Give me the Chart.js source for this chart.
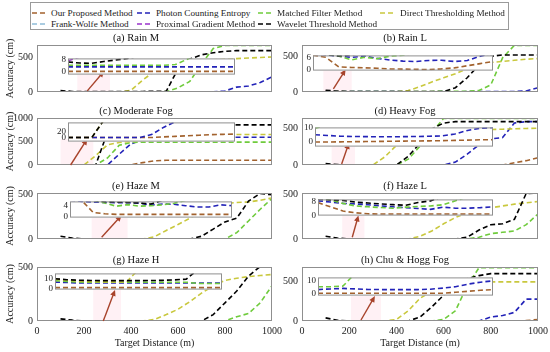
<!DOCTYPE html>
<html><head><meta charset="utf-8">
<script src="https://cdn.jsdelivr.net/npm/chart.js@4.4.1/dist/chart.umd.min.js"></script>
<style>
html,body{margin:0;padding:0;background:#fff;}
body{position:relative;width:550px;height:352px;overflow:hidden;font-family:"Liberation Serif","Times New Roman",serif;}
canvas{position:absolute;}
#legendBox{position:absolute;left:30px;top:2px;width:477px;height:26px;border:1px solid #9a9a9a;background:#fff;}
.lt{position:absolute;font-size:9.2px;line-height:12px;color:#222;white-space:nowrap;}
.ls{position:absolute;}
</style></head><body>
<div id="legendBox"></div>
<script>
// ---------------- DATA ----------------
const distance = [100,150,200,250,300,350,400,450,500,550,600,650,700,750,800,850,900,950,1000];
const insetDistance = [100,150,200,250,300,350,400,450,500,550,600,650,700,750,800];
const methodNames = ['Our Proposed Method','Photon Counting Entropy','Matched Filter Method','Direct Thresholding Method','Frank-Wolfe Method','Proximal Gradient Method','Wavelet Threshold Method'];
const panelTitles = ['(a) Rain M','(b) Rain L','(c) Moderate Fog','(d) Heavy Fog','(e) Haze M','(f) Haze L','(g) Haze H','(h) Chu & Hogg Fog'];
const xTickValues = [0,200,400,600,800,1000];

// main series, order: proposed, photon counting, matched filter, direct thresholding, frank-wolfe, proximal gradient, wavelet
const rainM = [
  [2,2,2,2,2,2,2,2,2,2,2,2,2,2,2,2,2,2,2],
  [3,3,3,3,3,3,3,3,3,3,3,3,3,3,15,70,85,135,215],
  [4,4,4,4,4,4,4,4,4,5,60,150,400,620,662,662,662,662,662],
  [0,0,0,0,0,0,25,170,295,370,410,430,448,458,468,476,484,492,500],
  null, null,
  [20,8,6,5,5,6,7,8,9,10,330,470,530,560,580,590,590,590,590]
];
const rainL = [
  [7,6,2,1,1,1,0.5,0.4,0.3,0.2,0.5,1,2,3,4,4,4,4,4],
  [7,7,6,6,6,5,5,4,4,4,5,4,5,6,8,8,8,15,60],
  [8,7.5,6.6,4.8,6,5.3,6.6,7,8,8,9,9,10,20,100,480,655,655,655],
  [0,0,0,0,0,0,0,20,75,140,200,255,330,390,415,430,445,460,470],
  null, null,
  [25,10,7,7,8,8,8,7,6,5,5,60,200,380,500,520,520,520,520]
];
const moderateFog = [
  [0,0,0,0,0,0,5,50,90,100,100,100,100,100,100,100,100,100,100],
  [0,0,0,0,0,230,450,540,565,575,580,582,584,586,588,590,590,590,590],
  [0,0,0,0,150,420,480,487,487,487,487,487,487,487,487,487,487,487,487],
  [0,0,0,200,430,480,500,520,540,560,580,600,620,635,645,650,650,650,650],
  null, null,
  [0,0,0,0,700,840,853,853,853,853,853,853,853,853,853,853,853,853,853]
];
const heavyFog = [
  [0,0,0,0,0,0,0,0,0,0,0,0,0,0,0,0,30,60,100],
  [0,0,0,0,0,0,0,0,0,0,0,40,150,280,360,380,580,600,600],
  [0,0,0,0,0,0,0,80,260,450,645,645,645,645,645,645,645,645,645],
  [0,0,0,0,0,110,270,380,430,450,460,470,478,485,490,495,500,505,510],
  null, null,
  [20,5,0,0,0,0,0,120,300,500,580,600,600,600,600,600,600,600,600]
];
const hazeM = [
  [1,1,1,1,1,1,1,1,1,1,1,1,1,1,1,1,1,1,1],
  [3,3,3,3,3,3,3,3,3,3,3,3,3,3,3,3,3,3,3],
  [0,0,0,0,0,0,0,0,0,0,0,0,0,0,0,70,200,330,450],
  [0,0,0,0,0,0,0,0,25,95,160,230,300,350,390,405,410,430,455],
  null, null,
  [30,10,0,0,0,0,0,0,0,0,0,0,30,110,190,230,420,505,490]
];
const hazeL = [
  [1,1,1,1,1,1,1,1,1,1,1,1,1,1,1,1,1,1,1],
  [2,2,2,2,2,2,2,2,2,2,2,2,2,2,2,2,2,2,2],
  [0,0,0,0,0,0,0,0,0,0,0,0,0,20,60,75,90,160,280],
  [0,0,0,0,0,0,0,0,30,90,170,240,295,320,350,370,390,405,420],
  null, null,
  [30,10,0,0,0,0,0,0,0,0,0,0,20,100,160,170,220,510,515]
];
const hazeH = [
  [1,1,1,1,1,1,1,1,1,1,1,1,1,1,1,1,1,1,1],
  [2,2,2,2,2,2,2,2,2,2,2,2,2,2,2,2,2,2,2],
  [0,0,0,0,0,0,0,0,0,0,0,0,0,0,0,40,70,170,330],
  [0,0,0,0,0,0,0,0,15,60,110,180,260,330,380,400,415,425,435],
  null, null,
  [20,8,0,0,0,0,0,0,0,0,0,0,0,60,170,280,420,510,505]
];
const chuHoggFog = [
  [0,0,0,0,0,0,0,0,0,0,0,0,0,0,0,0,0,5,20],
  [0,0,0,0,0,0,0,0,0,0,0,0,0,0,50,70,110,280,280],
  [0,0,0,0,0,0,0,0,0,0,20,130,450,680,680,680,680,680,680],
  [0,0,0,0,0,0,20,130,290,380,430,460,480,490,500,500,500,500,500],
  null, null,
  [40,10,0,0,0,0,0,0,50,180,330,450,540,580,605,605,605,605,605]
];

// zoomed inset series (same order), distances 100..800
const rainMInset = [
  [0,0,0,0,0,0,0,0,0,0,0,0,0,0,0],
  [3,3,3,3,3,3,3,3,3,3,3,3,3,3,3],
  [4,4,4,4,4,4,4,4,4,4.5,8,12,14,14,14],
  null, null,
  [7,9.5,12,12,12,12,12,12,12,12,12,12,12,12,12],
  [6.2,5.5,5.3,6.5,7.5,8.5,10,12,12,12,12,12,12,12,12]
];
const rainLInset = [
  [7,6,1.5,1.2,1.0,0.8,0.5,0.4,0.3,0.2,0.5,1.0,2.0,3.0,4.0],
  [7.5,7.2,6.5,6.0,6.6,5.5,4.7,4.2,4.0,4.5,4.6,4.0,4.5,6.5,8],
  [8,7.5,6.6,4.8,6.0,5.3,6.6,7.0,8,9,9,9,9,9,9],
  null, null, null,
  [8,7.3,6.6,7.2,8,9,9,9,9,9,9,9,9,9,9]
];
const moderateFogInset = [
  [0,0,0,0,0,0,0,0,2,4,6,8,10,11,12],
  [0,0,0,0,0,0,0,10,35,55,70,70,70,70,70],
  null,
  [0,0,0,60,60,60,60,60,60,60,60,60,60,60,60],
  null, null,
  [0,0,0,60,60,60,60,60,60,60,60,60,60,60,60]
];
const heavyFogInset = [
  [0,0,0.1,0.2,0.3,0.4,0.5,0.6,0.7,0.8,0.9,1.1,1.3,1.5,1.6],
  [5,4.5,4,3.8,3.7,3.6,3.6,3.7,3.8,4,4.2,5.5,8,9.5,10],
  [9.5,12,12,12,12,12,12,12,12,12,12,12,12,12,12],
  null, null, null, null
];
const hazeMInset = [
  [8,6,1.5,1.0,0.8,0.8,0.8,0.8,0.8,0.8,0.8,0.8,0.8,0.8,0.8],
  [6,5.6,5.3,5.2,5.1,5.1,5.0,4.2,4.6,4.5,4.0,3.5,3.5,4.3,4.0],
  [7,6.5,6,5,3.8,4.4,3.8,4.0,4.3,4.9,6,7,8,8,8],
  null, null, null,
  [8,7,6,5.5,5.3,5.2,5.0,4.6,6,8,9,9,9,9,9]
];
const hazeLInset = [
  [7.5,5,2.5,1.5,0.9,0.8,0.8,0.8,0.8,0.8,0.8,0.8,0.8,0.8,0.8],
  [8.5,7.8,7,6.7,6.2,5.5,5,4.5,4.0,3.5,4.8,4.2,4.2,4.5,5],
  [11,9,7,5.5,5.0,4.6,4.2,4.8,5.2,5.5,6.2,8.5,11,11,11],
  null, null, null,
  [9.5,9,8.7,7.8,7.2,6.7,6.3,5.9,7.5,8.5,11,11,11,11,11]
];
const hazeHInset = [
  [0.5,0.5,0.5,0.5,0.5,0.5,0.5,0.5,0.5,0.5,0.5,0.5,0.5,0.5,0.5],
  [6.4,6,5.5,5.5,5.5,5.5,5.5,5.5,5.5,5.5,5.5,5.5,5.5,5.5,5.5],
  [8,7,6.5,6.3,6.3,6.3,6.3,6.3,6.3,6.3,6.3,6.3,5,5,5],
  [9.5,8.5,7.5,7,6.7,6.6,6.5,20,20,20,20,20,20,20,20],
  null, null,
  [10,9,8.4,8.2,8,8,8,8,8.1,8.3,8.8,9.5,20,20,20]
];
const chuHoggFogInset = [
  [0.5,0.5,0.5,0.5,0.5,0.5,0.5,0.5,0.5,0.5,0.5,1.2,2,2.8,3.3],
  [3.3,3.8,4.2,3.8,3.4,3.3,3.3,3.3,3.3,3.6,4.4,5.5,7.5,9,10],
  [5.5,5.5,6,16,16,16,16,16,16,16,16,16,16,16,16],
  null, null, null, null
];

// ---------------- STYLE / LAYOUT ----------------
const methodColors = ['#A2622E','#2323B8','#6FCB3C','#C9C83E','#8FBCD8','#9A33CC','#000000'];
const arrowColor = '#A8432B';
const highlightColor = 'rgba(255,120,160,0.10)';
const frameColor = '#8f8f8f';
const SERIF = '"Liberation Serif","Times New Roman",serif';
const colLeft = [37, 302], colRight = [272, 538], colAxisW = [37, 30];
const rowTop = [45, 118, 193, 267], rowBottom = [100, 173, 247, 321];
const mainYMax = [670, 660, 1000, 650, 510, 515, 505, 690];
const mainYTicks = [[0,500],[0,500],[0,500,1000],[0,500],[0,500],[0,500],[0,500],[0,500]];
const insetBox = [[68,57,235,76],[313,54,493,72],[68,121,235,143],[315,126,493,148],[70,200,232,219],[318,198,493,217],[55,272,222,291],[318,276,493,297]];
const insetYRange = [[-2.1,8.55],[-0.3,6.9],[-14.2,52.4],[-3.2,10.1],[-0.41,5.58],[-0.15,9.35],[-1.55,15.7],[-1.33,12.67]];
const insetYTicks = [[0,4,8],[0,6],[0,20],[0,5,10],[0,4],[0,8],[0,10],[0,5,10]];
const arrowAnchors = [[214,16,285,296],[133,44,185,316],[143,0,214,555],[168,15,199,304],[275,19,360,262],[213,19,239,264],[282,0,332,290],[250,13,309,318]];

const mainSeries = [rainM, rainL, moderateFog, heavyFog, hazeM, hazeL, hazeH, chuHoggFog];
const insetSeries = [rainMInset, rainLInset, moderateFogInset, heavyFogInset, hazeMInset, hazeLInset, hazeHInset, chuHoggFogInset];

Chart.defaults.font.family = SERIF;
Chart.defaults.color = '#222';

const plainNumber = v => String(v);

const framePlugin = {
  id: 'frame',
  beforeDraw(chart, args, opts) {
    if (!opts.fill) return;
    const {ctx, chartArea: a} = chart;
    ctx.save(); ctx.fillStyle = opts.fill;
    ctx.fillRect(a.left, a.top, a.right - a.left, a.bottom - a.top);
    ctx.restore();
  },
  afterDatasetsDraw(chart, args, opts) {
    const {ctx, chartArea: a} = chart;
    ctx.save(); ctx.strokeStyle = opts.color || frameColor; ctx.lineWidth = 1;
    ctx.strokeRect(a.left + 0.5, a.top + 0.5, a.right - a.left - 1, a.bottom - a.top - 1);
    ctx.restore();
  }
};
const arrowPlugin = {
  id: 'arrow',
  beforeDatasetsDraw(chart, args, opts) {
    if (!opts.points) return;
    const [x0, y0, x1, y1] = opts.points;
    const xs = chart.scales.x, ys = chart.scales.y, ctx = chart.ctx;
    const left = xs.getPixelForValue(x0) - 10, right = xs.getPixelForValue(x1) + 6;
    const top = ys.getPixelForValue(y1), bottom = chart.chartArea.bottom;
    ctx.save(); ctx.fillStyle = opts.highlight;
    ctx.fillRect(left, top, right - left, bottom - top);
    ctx.restore();
  },
  afterDatasetsDraw(chart, args, opts) {
    if (!opts.points) return;
    const [x0, y0, x1, y1] = opts.points;
    const xs = chart.scales.x, ys = chart.scales.y, ctx = chart.ctx;
    const ax = xs.getPixelForValue(x0), ay = ys.getPixelForValue(y0);
    const bx = xs.getPixelForValue(x1), by = ys.getPixelForValue(y1);
    const ang = Math.atan2(by - ay, bx - ax), L = 6, W = 2.8;
    ctx.save(); ctx.strokeStyle = opts.color; ctx.fillStyle = opts.color; ctx.lineWidth = 1.4;
    ctx.beginPath(); ctx.moveTo(ax, ay); ctx.lineTo(bx - 3 * Math.cos(ang), by - 3 * Math.sin(ang)); ctx.stroke();
    ctx.beginPath(); ctx.moveTo(bx, by);
    ctx.lineTo(bx - L * Math.cos(ang) + W * Math.sin(ang), by - L * Math.sin(ang) - W * Math.cos(ang));
    ctx.lineTo(bx - L * Math.cos(ang) - W * Math.sin(ang), by - L * Math.sin(ang) + W * Math.cos(ang));
    ctx.closePath(); ctx.fill(); ctx.restore();
  }
};

function buildDatasets(series, xs) {
  const ds = [];
  for (let m = series.length - 1; m >= 0; m--) {
    if (!series[m]) continue;
    ds.push({
      label: methodNames[m],
      data: series[m].map((v, i) => ({x: xs[i], y: v})),
      borderColor: methodColors[m], backgroundColor: methodColors[m],
      borderWidth: 1.6, borderDash: [5, 3], pointRadius: 0, tension: 0, fill: false
    });
  }
  return ds;
}

function makeCanvas(left, top, w, h, z) {
  const c = document.createElement('canvas');
  c.width = w; c.height = h;
  c.style.left = left + 'px'; c.style.top = top + 'px'; c.style.width = w + 'px'; c.style.height = h + 'px';
  c.style.zIndex = z;
  document.body.appendChild(c);
  return c;
}

for (let p = 0; p < 8; p++) {
  const col = p % 2, row = Math.floor(p / 2);
  const L = colLeft[col], R = colRight[col], T = rowTop[row], B = rowBottom[row];
  const YW = colAxisW[col], TH = 13, isBottom = row === 3, XH = isBottom ? 28 : 8;
  const w = (R - L) + 2 * YW, h = (B - T) + TH + XH;
  const cv = makeCanvas(L - YW, T - TH, w, h, 1);
  new Chart(cv, {
    type: 'line',
    data: {datasets: buildDatasets(mainSeries[p], distance)},
    options: {
      responsive: false, animation: false, devicePixelRatio: 1,
      layout: {padding: {left: 0, right: YW, top: 0, bottom: isBottom ? 0 : XH}},
      plugins: {
        legend: {display: false}, tooltip: {enabled: false},
        title: {display: true, text: panelTitles[p], color: '#111', padding: 0,
                font: {family: SERIF, size: 10.5, weight: 'normal', lineHeight: '13px'}},
        frame: {color: frameColor},
        arrow: {points: arrowAnchors[p], color: arrowColor, highlight: highlightColor}
      },
      scales: {
        x: {type: 'linear', min: 0, max: 1000, display: isBottom,
            grid: {display: false, drawTicks: false}, border: {display: false},
            afterBuildTicks: s => { s.ticks = xTickValues.map(v => ({value: v})); },
            ticks: {padding: 4, maxRotation: 0, autoSkip: false, color: '#222', font: {family: SERIF, size: 10}, callback: plainNumber},
            title: {display: true, text: 'Target Distance (m)', color: '#222', padding: 0, font: {family: SERIF, size: 10}},
            afterFit: s => { s.height = XH; }},
        y: {type: 'linear', min: 0, max: mainYMax[p],
            grid: {display: false, drawTicks: false}, border: {display: false},
            afterBuildTicks: s => { s.ticks = mainYTicks[p].map(v => ({value: v})); },
            ticks: {padding: 4, color: '#222', font: {family: SERIF, size: 10}, callback: plainNumber},
            title: {display: col === 0, text: 'Accuracy (cm)', color: '#222', padding: {top: 4, bottom: 0}, font: {family: SERIF, size: 10}},
            afterFit: s => { s.width = YW; }}
      }
    },
    plugins: [framePlugin, arrowPlugin]
  });

  // inset
  const [iL, iT, iR, iB] = insetBox[p];
  const IW = 15;
  const icv = makeCanvas(iL - IW, iT - 6, (iR - iL) + IW + 2, (iB - iT) + 12, 2);
  new Chart(icv, {
    type: 'line',
    data: {datasets: buildDatasets(insetSeries[p], insetDistance)},
    options: {
      responsive: false, animation: false, devicePixelRatio: 1,
      layout: {padding: {left: 0, right: 2, top: 6, bottom: 6}},
      plugins: {legend: {display: false}, tooltip: {enabled: false}, frame: {color: frameColor, fill: '#ffffff'}},
      scales: {
        x: {type: 'linear', min: 100, max: 800, display: false},
        y: {type: 'linear', min: insetYRange[p][0], max: insetYRange[p][1],
            grid: {display: false, drawTicks: false}, border: {display: false},
            afterBuildTicks: s => { s.ticks = insetYTicks[p].map(v => ({value: v})); },
            ticks: {padding: 2, color: '#222', font: {family: SERIF, size: 9}, callback: plainNumber},
            afterFit: s => { s.width = IW; }}
      }
    },
    plugins: [framePlugin]
  });
}

// legend (HTML)
const legendColX = [32, 137, 258, 380], legendTextX = [51, 156, 277, 400], legendRowY = [13, 24];
methodNames.forEach((name, m) => {
  const r = m < 4 ? 0 : 1, c = m < 4 ? m : m - 4;
  const svgNS = 'http://www.w3.org/2000/svg';
  const svg = document.createElementNS(svgNS, 'svg');
  svg.setAttribute('width', 16); svg.setAttribute('height', 6);
  svg.setAttribute('class', 'ls');
  svg.style.left = legendColX[c] + 'px'; svg.style.top = (legendRowY[r] - 3) + 'px'; svg.style.zIndex = 5;
  const ln = document.createElementNS(svgNS, 'line');
  ln.setAttribute('x1', 0); ln.setAttribute('y1', 3); ln.setAttribute('x2', 16); ln.setAttribute('y2', 3);
  ln.setAttribute('stroke', methodColors[m]); ln.setAttribute('stroke-width', 1.6); ln.setAttribute('stroke-dasharray', '5,3');
  svg.appendChild(ln);
  document.body.appendChild(svg);
  const t = document.createElement('div');
  t.className = 'lt'; t.textContent = name; t.style.zIndex = 5;
  t.style.left = legendTextX[c] + 'px'; t.style.top = (legendRowY[r] - 6) + 'px';
  document.body.appendChild(t);
});
</script></body></html>
